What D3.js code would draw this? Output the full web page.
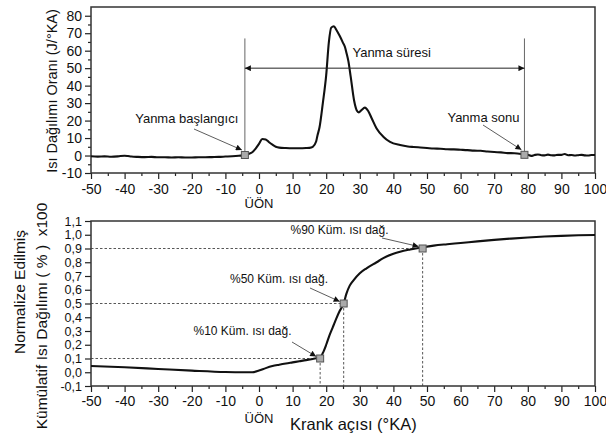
<!DOCTYPE html>
<html>
<head>
<meta charset="utf-8">
<script src="https://cdn.jsdelivr.net/npm/d3@7/dist/d3.min.js"></script>
<style>
  html, body { margin: 0; padding: 0; background: #fff; }
  svg { display: block; font-family: "Liberation Sans", Arial, sans-serif; }
</style>
</head>
<body>
<svg id="chart" width="606" height="439"></svg>
<script>
// Heat release rate (J/°KA) versus crank angle
const rateAngle = [-50,-48,-46,-44,-42,-40,-39,-38,-36,-34,-32,-30,-28,-26,-24,-22,-20,-18,-16,-14,-12,-10,-8,-6,-5,-4.2,-3,-2,-1,0,1,2,3,4,5,6,8,10,12,14,15,16,17,17.4,18,19,20,20.8,21.5,22.3,23,24,25,25.6,26,26.6,27.3,28.3,29.1,29.7,30.5,31.5,32.5,33.5,35,37,39,42,44.3,46,48,50,52,54,56,58,60,62,64,66,68,70,72,74,76,78,79,80,81,82,83,84,85,86,87,88,89,90,91,92,93,94,95,96,97,98,99,100];
const rateValue = [-0.4,-0.6,-0.5,-0.7,-0.5,-0.1,-0.3,-0.6,-0.8,-0.9,-0.8,-1.0,-1.0,-1.1,-1.0,-1.1,-1.1,-1.0,-1.0,-0.9,-0.8,-0.6,-0.4,-0.1,0.1,0.3,1.0,1.9,4.0,6.7,9.5,9.2,7.6,6.2,5.0,4.5,4.3,4.2,4.2,4.3,4.4,5.0,8.0,11.5,16,30,46,65,73.2,74,72,68.5,64.5,62,59,54,45,31.5,25.8,24.7,26,27.4,25.5,21.5,15.5,10.8,7.8,6.0,5.2,4.9,4.6,4.3,4.0,3.9,3.6,3.5,3.3,3.1,2.8,2.7,2.3,2.0,1.8,1.4,1.3,0.9,0.6,0.4,-0.2,0.3,0.6,0.2,0.1,0.5,0.2,0.1,0.4,0.4,0.9,0.2,0.3,0.0,0.2,0.4,0.1,0.0,0.3,0.3];

// Normalised cumulative heat release (x100 %)
const cumAngle = [-50,-40,-30,-20,-10,-5,-2,0,2,4,6,8,10,12,14,16,18.2,19,20,21,22,23,24,25.2,26,27,28,30,32,35,37,40,42,45,48.7,52,56,60,65,70,75,80,85,90,95,100];
const cumValue = [0.045,0.036,0.024,0.012,0.002,0.0,0.0,0.012,0.03,0.045,0.055,0.064,0.072,0.08,0.088,0.097,0.109,0.14,0.2,0.27,0.33,0.39,0.445,0.5,0.57,0.63,0.665,0.72,0.756,0.8,0.83,0.862,0.877,0.893,0.909,0.921,0.931,0.94,0.952,0.963,0.972,0.98,0.987,0.992,0.996,0.998];

// Combustion start / end markers on the rate curve
const eventAngle = [-4.2, 79];
const eventValue = [0.3, 0.4];
const eventLabel = ["Yanma başlangıcı", "Yanma sonu"];
const durationLabel = "Yanma süresi";

// 10 / 50 / 90 % cumulative points
const burnAngle = [18.2, 25.2, 48.7];
const burnFraction = [0.1, 0.5, 0.9];
const burnLabel = ["%10 Küm. ısı dağ.", "%50 Küm. ısı dağ.", "%90 Küm. ısı dağ."];

const xTicks = [-50,-40,-30,-20,-10,0,10,20,30,40,50,60,70,80,90,100];
const rateTicks = [-10,0,10,20,30,40,50,60,70,80];
const cumTicks = [-0.1,0,0.1,0.2,0.3,0.4,0.5,0.6,0.7,0.8,0.9,1.0,1.1];

const svg = d3.select("#chart");
const ink = "#111";

const defs = svg.append("defs");
defs.append("marker").attr("id", "head")
  .attr("viewBox", "0 0 10 10").attr("refX", 10).attr("refY", 5)
  .attr("markerWidth", 9).attr("markerHeight", 6).attr("markerUnits", "userSpaceOnUse")
  .attr("orient", "auto-start-reverse")
  .append("path").attr("d", "M0,0L10,5L0,10Z").attr("fill", "#111");

const x1 = d3.scaleLinear().domain([-50, 100]).range([91, 595]);
const y1 = d3.scaleLinear().domain([-10, 85]).range([173, 7]);
const x2 = d3.scaleLinear().domain([-50, 100]).range([91, 595]);
const y2 = d3.scaleLinear().domain([-0.1, 1.1]).range([386, 221]);

const intFmt = d => String(d);
const commaFmt = d => (d < 0 ? "-" : "") + Math.abs(d).toFixed(1).replace(".", ",");

function drawAxes(g, x, y, yTicks, yFmt, yMinor, labelPad, yFont) {
  const [x0, xr] = x.range();
  const [yb, yt] = y.range();
  // minor x ticks
  g.append("g").attr("transform", `translate(0,${yb})`)
    .call(d3.axisBottom(x).tickValues(d3.range(-45, 100, 10)).tickSize(3).tickFormat(""))
    .call(s => s.select(".domain").remove());
  g.append("g").attr("class", "xaxis").attr("transform", `translate(0,${yb})`)
    .call(d3.axisBottom(x).tickValues(xTicks).tickSize(6).tickSizeOuter(0).tickPadding(labelPad).tickFormat(intFmt))
    .call(s => s.select(".domain").remove());
  if (yMinor) {
    g.append("g").attr("transform", `translate(${x0},0)`)
      .call(d3.axisLeft(y).tickValues(yMinor).tickSize(3).tickFormat(""))
      .call(s => s.select(".domain").remove());
  }
  g.append("g").attr("class", "yaxis").attr("transform", `translate(${x0},0)`)
    .call(d3.axisLeft(y).tickValues(yTicks).tickSize(6).tickSizeOuter(0).tickPadding(3).tickFormat(yFmt))
    .call(s => s.select(".domain").remove());
  g.selectAll(".tick line").attr("stroke", "#222").attr("stroke-width", 1.2);
  g.selectAll(".tick text").attr("font-size", 14).attr("fill", "#111")
    .attr("font-family", "'Liberation Sans', Arial, sans-serif");
  g.selectAll(".yaxis .tick text").attr("font-size", yFont);
  g.append("rect").attr("x", x0).attr("y", yt).attr("width", xr - x0).attr("height", yb - yt)
    .attr("fill", "none").attr("stroke", "#333").attr("stroke-width", 1.5);
}

// ---------- upper panel: heat release rate ----------
const upper = svg.append("g");
drawAxes(upper, x1, y1, rateTicks, intFmt, d3.range(-5, 85, 10), 5, 14);

const rateLine = d3.line().x(d => x1(d[0])).y(d => y1(d[1])).curve(d3.curveMonotoneX);
upper.append("path").datum(rateAngle.map((a, i) => [a, rateValue[i]]))
  .attr("d", rateLine).attr("fill", "none").attr("stroke", ink).attr("stroke-width", 2.1)
  .attr("stroke-linejoin", "round");

// vertical guides at start / end of combustion
eventAngle.forEach((a, i) => {
  upper.append("line").attr("x1", x1(a)).attr("x2", x1(a))
    .attr("y1", y1(67)).attr("y2", y1(eventValue[i]))
    .attr("stroke", "#666").attr("stroke-width", 1);
});
// duration double arrow
upper.append("line")
  .attr("x1", x1(eventAngle[0])).attr("x2", x1(eventAngle[1]))
  .attr("y1", y1(50)).attr("y2", y1(50))
  .attr("stroke", "#222").attr("stroke-width", 1)
  .attr("marker-start", "url(#head)").attr("marker-end", "url(#head)");
upper.append("text").attr("x", x1(39.5)).attr("y", 57).attr("text-anchor", "middle")
  .attr("font-size", 13).attr("fill", "#111").text(durationLabel);

// event labels with pointer arrows
const eventText = [{tx: x1(-21.5), ty: 123, ax: 194, ay: 129}, {tx: x1(66.8), ty: 122, ax: 483, ay: 125}];
eventAngle.forEach((a, i) => {
  const p = eventText[i];
  upper.append("text").attr("x", p.tx).attr("y", p.ty).attr("text-anchor", "middle")
    .attr("font-size", 13).attr("fill", "#111").text(eventLabel[i]);
  upper.append("line").attr("x1", p.ax).attr("y1", p.ay)
    .attr("x2", x1(a) - 3).attr("y2", y1(eventValue[i]) - 5)
    .attr("stroke", "#333").attr("stroke-width", 0.8).attr("marker-end", "url(#head)");
});
eventAngle.forEach((a, i) => {
  upper.append("rect").attr("x", x1(a) - 3.5).attr("y", y1(eventValue[i]) - 3.5)
    .attr("width", 7).attr("height", 7).attr("fill", "#aaa").attr("stroke", "#555").attr("stroke-width", 1);
});
upper.append("text").attr("x", x1(0)).attr("y", 208).attr("text-anchor", "middle")
  .attr("font-size", 13).attr("fill", "#111").text("ÜÖN");

upper.append("text").attr("transform", `translate(57,91) rotate(-90)`).attr("text-anchor", "middle")
  .attr("font-size", 14.5).attr("fill", "#111").text("Isı Dağılımı Oranı (J/°KA)");

// ---------- lower panel: cumulative heat release ----------
const lower = svg.append("g");
drawAxes(lower, x2, y2, cumTicks, commaFmt, null, 4, 12.5);

// dashed reference lines to the 10/50/90 % points
burnAngle.forEach((a, i) => {
  lower.append("line").attr("x1", x2(-50)).attr("x2", x2(a))
    .attr("y1", y2(burnFraction[i])).attr("y2", y2(burnFraction[i]))
    .attr("stroke", "#444").attr("stroke-width", 0.9).attr("stroke-dasharray", "2.5,2");
  lower.append("line").attr("x1", x2(a)).attr("x2", x2(a))
    .attr("y1", y2(burnFraction[i])).attr("y2", y2(-0.1))
    .attr("stroke", "#444").attr("stroke-width", 0.9).attr("stroke-dasharray", "2.5,2");
});

const cumLine = d3.line().x(d => x2(d[0])).y(d => y2(d[1])).curve(d3.curveMonotoneX);
lower.append("path").datum(cumAngle.map((a, i) => [a, cumValue[i]]))
  .attr("d", cumLine).attr("fill", "none").attr("stroke", ink).attr("stroke-width", 2.1);

const burnText = [{tx: 242.5, ty: 335, ax: 292, ay: 342}, {tx: 279, ty: 283, ax: 310, ay: 288}, {tx: 339.5, ty: 234, ax: 382, ay: 238}];
burnAngle.forEach((a, i) => {
  const p = burnText[i];
  lower.append("text").attr("x", p.tx).attr("y", p.ty).attr("text-anchor", "middle")
    .attr("font-size", 12).attr("fill", "#111").text(burnLabel[i]);
  lower.append("line").attr("x1", p.ax).attr("y1", p.ay)
    .attr("x2", x2(a) - 4).attr("y2", y2(burnFraction[i]) - 2)
    .attr("stroke", "#333").attr("stroke-width", 0.8).attr("marker-end", "url(#head)");
});
burnAngle.forEach((a, i) => {
  lower.append("rect").attr("x", x2(a) - 3.5).attr("y", y2(burnFraction[i]) - 3.5)
    .attr("width", 7).attr("height", 7).attr("fill", "#aaa").attr("stroke", "#555").attr("stroke-width", 1);
});

lower.append("text").attr("x", x2(0)).attr("y", 423).attr("text-anchor", "middle")
  .attr("font-size", 13).attr("fill", "#111").text("ÜÖN");
lower.append("text").attr("x", 290).attr("y", 430)
  .attr("font-size", 16.5).attr("fill", "#111").text("Krank açısı (°KA)");

lower.append("text").attr("transform", `translate(25,292) rotate(-90)`).attr("text-anchor", "middle")
  .attr("font-size", 15.5).attr("fill", "#111").text("Normalize Edilmiş");
lower.append("text").attr("transform", `translate(47,316) rotate(-90)`).attr("text-anchor", "middle")
  .attr("font-size", 15.5).attr("fill", "#111").attr("xml:space", "preserve")
  .text("Kümülatif Isı Dağılımı ( % )  x100");
</script>
</body>
</html>
